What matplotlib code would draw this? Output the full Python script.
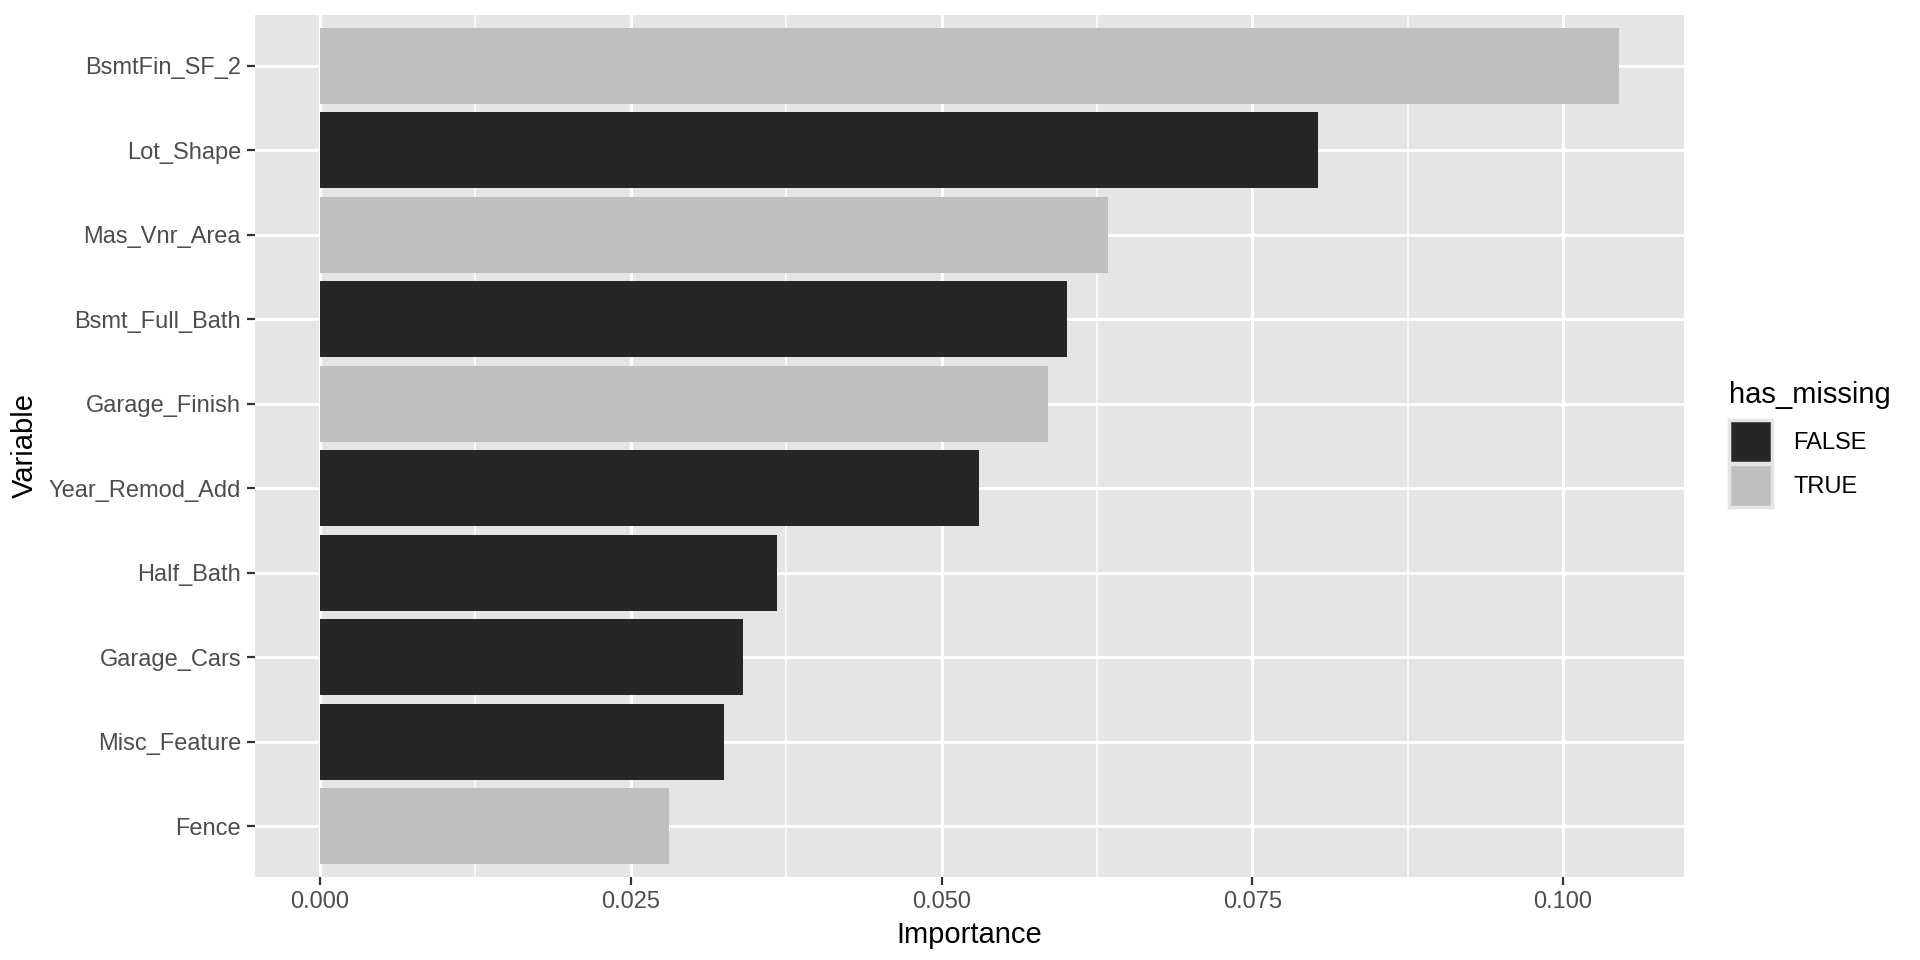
import numpy as np
import matplotlib
matplotlib.use('Agg')
import matplotlib.pyplot as plt
from matplotlib.patches import Patch

plt.rcParams['font.family'] = ['Liberation Sans', 'DejaVu Sans']

variables = ['BsmtFin_SF_2', 'Lot_Shape', 'Mas_Vnr_Area', 'Bsmt_Full_Bath', 'Garage_Finish',
             'Year_Remod_Add', 'Half_Bath', 'Garage_Cars', 'Misc_Feature', 'Fence']
importance = [0.1045, 0.0803, 0.0634, 0.0601, 0.0586, 0.0530, 0.0368, 0.0340, 0.0325, 0.0281]
has_missing = [True, False, True, False, True, False, False, False, False, True]

col_false = '#262626'
col_true = '#BFBFBF'

fig = plt.figure(figsize=(19.2, 9.6), dpi=100)
ax = fig.add_axes([255/1920, 1-877/960, (1684-255)/1920, (877-15)/960])
ax.set_facecolor('#E5E5E5')

n = len(variables)
ypos = np.arange(n)[::-1]
colors = [col_true if m else col_false for m in has_missing]
ax.barh(ypos, importance, height=0.9, color=colors, zorder=3)

xmax = max(importance)
ax.set_xlim(-0.05*xmax, 1.05*xmax)
ax.set_ylim(-0.6, n-1+0.6)

major = [0.0, 0.025, 0.05, 0.075, 0.1]
ax.set_xticks(major)
ax.set_xticklabels(['0.000', '0.025', '0.050', '0.075', '0.100'])
ax.set_xticks([0.0125, 0.0375, 0.0625, 0.0875], minor=True)
ax.set_yticks(ypos)
ax.set_yticklabels(variables)

ax.grid(which='major', color='white', linewidth=2.2, zorder=1)
ax.grid(which='minor', axis='x', color='white', linewidth=1.1, zorder=1)
ax.tick_params(which='major', length=6, width=1.6, color='#333333', labelcolor='#4D4D4D',
               labelsize=17, pad=4)
ax.tick_params(which='minor', length=0)
for s in ax.spines.values():
    s.set_visible(False)

ax.set_xlabel('Importance', fontsize=21, color='black', labelpad=6)
ax.set_ylabel('Variable', fontsize=21, color='black', labelpad=7)

handles = [Patch(facecolor=col_false, edgecolor='#E5E5E5', linewidth=2.5),
           Patch(facecolor=col_true, edgecolor='#E5E5E5', linewidth=2.5)]
leg = fig.legend(handles, ['FALSE', 'TRUE'], title='has_missing', loc='upper left',
                 bbox_to_anchor=(1708/1920, 1-360/960), frameon=False, fontsize=17,
                 title_fontsize=21, handlelength=1.8, handleheight=2.4, labelspacing=0.05,
                 handletextpad=0.9, borderpad=0.4)
leg._legend_box.align = 'left'
leg._legend_box.sep = 8

fig.savefig('out.png', dpi=100)
